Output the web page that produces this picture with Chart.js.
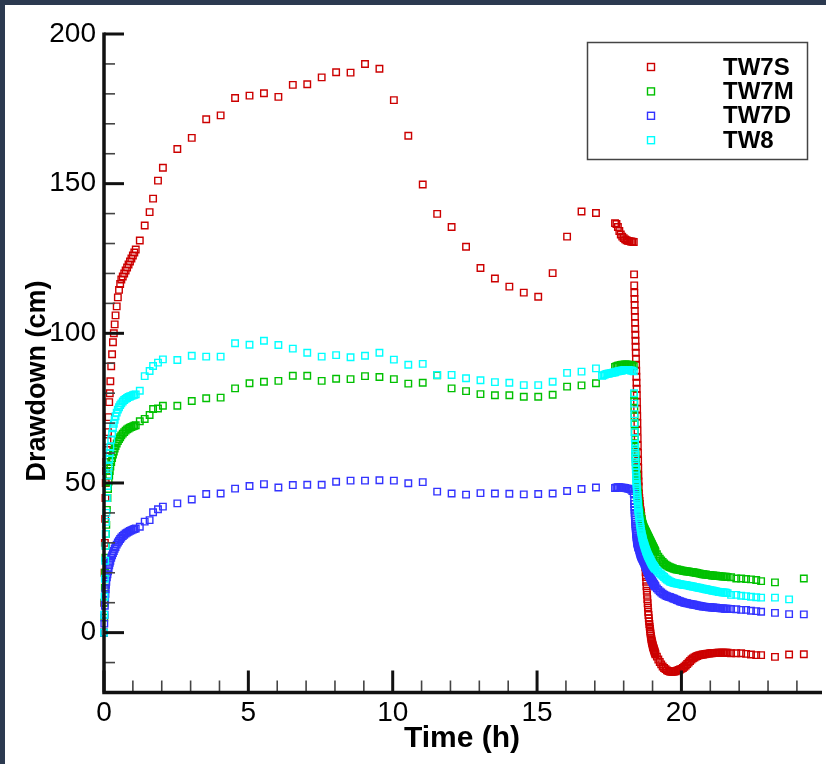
<!DOCTYPE html>
<html>
<head>
<meta charset="utf-8">
<title>Drawdown</title>
<script src="https://cdn.jsdelivr.net/npm/chart.js@4.4.0/dist/chart.umd.min.js"></script>
<style>
  html, body { margin: 0; padding: 0; background: #2c3a50; }
  #frame { position: absolute; left: 5px; top: 5px; width: 821px; height: 759px; background: #fff; }
</style>
</head>
<body>
<div id="frame"><canvas id="drawdownChart" width="821" height="759"></canvas></div>
<script>
// early pumping, dense logger readings (h)
const earlyHours = [0, 0.01, 0.02, 0.03, 0.04, 0.05, 0.06, 0.07, 0.08,
  0.1, 0.12, 0.14, 0.16, 0.18, 0.2, 0.22,
  0.25, 0.28, 0.31, 0.34, 0.37, 0.4,
  0.44, 0.48, 0.52, 0.56, 0.6,
  0.65, 0.7, 0.75, 0.8, 0.85, 0.9, 0.95, 1.0, 1.05, 1.1];
const earlyTW7S = [0, 10, 20, 30, 38, 45, 50, 54, 57,
  61, 64, 67, 72, 77, 80, 84,
  89, 93, 97, 100, 103, 106,
  109, 112, 114.5, 116.5, 118,
  119, 120, 121, 122, 123, 124, 125, 126, 127, 128];
const earlyTW7M = [0, 5, 10, 15, 20, 25, 29, 33, 36,
  41, 45, 48, 50.5, 52.5, 54, 55.5,
  57, 58.3, 59.5, 60.5, 61.5, 62.3,
  63.2, 64, 64.7, 65.3, 65.9,
  66.5, 67, 67.5, 67.9, 68.2, 68.5, 68.7, 68.9, 69.1, 69.3];
const earlyTW7D = [0, 3, 6, 9, 11, 13, 14.5, 16, 17,
  18.5, 19.5, 20.5, 21.5, 22.5, 23.3, 24,
  25, 25.8, 26.6, 27.3, 28, 28.6,
  29.4, 30.1, 30.7, 31.3, 31.8,
  32.3, 32.7, 33.1, 33.4, 33.7, 34, 34.2, 34.4, 34.6, 34.8];
const earlyTW8 = [0, 6, 12, 18, 24, 29, 33, 37, 40,
  45, 49, 52.5, 55.5, 58, 60, 62,
  64.5, 66.5, 68.3, 69.8, 71.1, 72.3,
  73.5, 74.5, 75.3, 76, 76.6,
  77.2, 77.7, 78.1, 78.4, 78.7, 78.9, 79.1, 79.3, 79.5, 79.6];

// rest of pumping, sparse readings (h)
const pumpHours = [1.24, 1.41, 1.58, 1.7, 1.87, 2.04,
  2.54, 3.04, 3.54, 4.04, 4.54, 5.04, 5.54, 6.04, 6.54, 7.04,
  7.54, 8.04, 8.54, 9.04, 9.54, 10.04, 10.54, 11.04, 11.54, 12.04,
  12.54, 13.04, 13.54, 14.04, 14.54, 15.04, 15.54, 16.04, 16.54, 17.04];
const pumpTW7S = [131, 136, 140.5, 145, 151, 155.3,
  161.6, 165.3, 171.5, 172.8, 178.6, 179.4, 180.2, 179.0, 183.0, 183.2,
  185.5, 187.2, 187.1, 190.0, 188.4, 177.9, 166.0, 149.7, 139.9, 135.5,
  128.9, 121.8, 118.3, 115.6, 113.6, 112.2, 120.1, 132.3, 140.7, 140.2];
const pumpTW7M = [70.6, 71.4, 72.7, 74.7, 74.9, 75.8,
  75.8, 77.4, 78.3, 78.5, 81.6, 83.3, 83.8, 84.1, 85.8, 85.8,
  84.1, 84.8, 84.7, 85.7, 85.4, 84.7, 83.2, 83.5, 86.0, 81.6,
  80.7, 79.7, 79.3, 79.3, 78.8, 78.8, 79.5, 82.2, 82.6, 83.3];
const pumpTW7D = [35.4, 37.1, 37.6, 40.2, 41.2, 42.1,
  43.2, 44.5, 46.3, 46.5, 48.1, 49.0, 49.6, 48.5, 49.3, 49.4,
  49.4, 50.4, 50.8, 50.8, 50.9, 50.8, 49.9, 50.3, 47.1, 46.5,
  46.1, 46.6, 46.5, 46.4, 46.2, 46.3, 46.5, 47.3, 48.0, 48.5];
const pumpTW8 = [80.8, 85.7, 87.4, 89.1, 90.2, 91.3,
  91.1, 92.5, 92.2, 92.2, 96.7, 96.2, 97.5, 96.1, 94.9, 93.5,
  92.2, 92.7, 92.0, 92.5, 93.5, 91.2, 89.5, 89.8, 86.1, 86.1,
  85.0, 84.3, 83.7, 83.5, 82.7, 82.7, 83.8, 86.8, 87.2, 88.3];

// TW8 logger started the dense run a little earlier
const leadHoursTW8 = [17.25, 17.3, 17.35, 17.4, 17.45, 17.5, 17.55, 17.6, 17.65];
const leadTW8 = [85.8, 86.0, 86.2, 86.4, 86.5, 86.6, 86.7, 86.8, 86.9];

// end of pumping + recovery (h)
const recoveryHours = [
  // pump still on
  17.7, 17.75, 17.8, 17.85, 17.9, 17.95, 18.0, 18.05, 18.1, 18.15, 18.2, 18.25, 18.3, 18.35,
  // pump off
  18.36, 18.365, 18.37, 18.375, 18.38, 18.385, 18.39, 18.395, 18.4, 18.405, 18.41,
  18.415, 18.42, 18.425, 18.43, 18.435, 18.44, 18.445, 18.45, 18.455, 18.46, 18.465,
  18.47, 18.475, 18.48, 18.485, 18.49, 18.495, 18.5, 18.505, 18.51, 18.515, 18.52,
  18.53, 18.54, 18.55, 18.56, 18.57, 18.58, 18.59, 18.6, 18.61, 18.62,
  18.63, 18.64, 18.65, 18.66, 18.67, 18.68, 18.69, 18.7, 18.71, 18.72,
  18.73, 18.74, 18.75, 18.76, 18.77, 18.78, 18.79, 18.8, 18.81, 18.82,
  18.83, 18.84, 18.85, 18.86, 18.87, 18.88, 18.89, 18.9, 18.91, 18.92,
  18.93, 18.94, 18.95, 18.96, 18.97, 18.98, 18.99, 19.0, 19.01, 19.02,
  19.03, 19.04, 19.05, 19.06, 19.07, 19.08, 19.09, 19.1,
  19.15, 19.2, 19.25, 19.3, 19.35, 19.4, 19.45, 19.5, 19.55, 19.6,
  19.65, 19.7, 19.75, 19.8, 19.85, 19.9, 19.95, 20.0, 20.05, 20.1,
  20.15, 20.2, 20.25, 20.3, 20.35, 20.4, 20.45, 20.5, 20.55, 20.6,
  20.65, 20.7, 20.75, 20.8, 20.85, 20.9, 20.95, 21.0, 21.05, 21.1,
  21.15, 21.2, 21.25, 21.3, 21.35, 21.4, 21.45, 21.5, 21.55, 21.6,
  21.72, 21.9, 22.07, 22.24, 22.41, 22.59, 22.76, 23.24, 23.73, 24.24];
const recoveryTW7S = [
  136.8, 136.5, 135.5, 134.2, 133.0, 132.3, 131.8, 131.4, 131.1, 130.9, 130.8, 130.7, 130.6, 130.5,
  119.7, 116, 113.5, 111.5, 109.5, 107.5, 105.5, 103.5, 101.5, 99.5, 97.5,
  95.5, 93.5, 91.5, 89.5, 87.5, 85.5, 83.5, 81.5, 79.3, 77, 74.7,
  72.3, 70, 67.5, 65, 62.5, 60, 57.5, 55, 52.5, 50.5, 48.8,
  46.5, 45, 44, 43, 42, 41, 40.5, 40, 39, 38,
  37, 36, 35, 33.8, 32.6, 31.4, 30.2, 29, 27.6, 26.2,
  24.8, 23.3, 21.8, 20.2, 18.6, 17, 15.5, 14, 12.6, 11.2,
  9.8, 8.4, 7, 5.9, 4.8, 3.8, 2.9, 2.0, 1.2, 0.4,
  -0.3, -1.0, -1.6, -2.2, -2.7, -3.2, -3.6, -4.0, -4.4, -4.8,
  -5.1, -5.4, -5.7, -6.0, -6.3, -6.6, -6.9, -7.2,
  -8.0, -9.0, -9.8, -10.6, -11.3, -11.8, -12.2, -12.6, -12.8, -13.0,
  -13.1, -13.1, -13.0, -12.9, -12.7, -12.5, -12.3, -12.1, -11.8, -11.4,
  -11.0, -10.5, -10.0, -9.5, -9.0, -8.6, -8.3, -8.0, -7.8, -7.6,
  -7.5, -7.4, -7.3, -7.2, -7.1, -7.0, -7.0, -6.9, -6.9, -6.8,
  -6.8, -6.8, -6.7, -6.7, -6.7, -6.7, -6.7, -6.7, -6.7, -6.7,
  -6.9, -6.9, -6.9, -7.1, -7.3, -7.5, -7.5, -8.1, -7.3, -7.2];
const recoveryTW7M = [
  88.8, 89.0, 89.2, 89.3, 89.4, 89.5, 89.5, 89.6, 89.6, 89.5, 89.5, 89.4, 89.3, 89.0,
  79.6, 77.3, 75.0, 72.3, 69.6, 67.0, 64.6, 63.3, 62.1, 60.7, 59.3,
  58.1, 57.0, 56.0, 55.0, 54.1, 53.2, 52.3, 51.5, 50.7, 50.0, 49.2,
  48.5, 47.7, 47.0, 46.4, 45.8, 45.2, 44.6, 44.0, 43.5, 43.0, 42.5,
  41.7, 41.0, 40.5, 40.0, 39.6, 39.2, 38.8, 38.5, 38.1, 37.7,
  37.3, 36.9, 36.5, 36.2, 35.9, 35.6, 35.3, 35.0, 34.8, 34.6,
  34.4, 34.2, 34.0, 33.8, 33.6, 33.4, 33.2, 33.0, 32.8, 32.6,
  32.4, 32.2, 32.0, 31.8, 31.6, 31.4, 31.2, 31.0, 30.8, 30.6,
  30.4, 30.2, 30.0, 29.8, 29.6, 29.4, 29.2, 29.0, 28.8, 28.6,
  28.4, 28.2, 28.0, 27.8, 27.6, 27.4, 27.2, 27.0,
  26.2, 25.4, 24.7, 24.1, 23.6, 23.1, 22.7, 22.4, 22.1, 21.9,
  21.7, 21.5, 21.3, 21.2, 21.1, 21.0, 20.9, 20.8, 20.7, 20.6,
  20.5, 20.4, 20.4, 20.3, 20.3, 20.2, 20.1, 20.0, 19.9, 19.8,
  19.7, 19.6, 19.5, 19.4, 19.4, 19.3, 19.3, 19.2, 19.1, 19.1,
  19.0, 19.0, 18.9, 18.9, 18.8, 18.8, 18.7, 18.7, 18.7, 18.6,
  18.5, 18.1, 18.1, 17.9, 17.8, 17.6, 17.2, 16.8, null, 18.1];
const recoveryTW7D = [
  48.3, 48.5, 48.6, 48.6, 48.5, 48.4, 48.4, 48.3, 48.2, 48.1, 48.0, 47.8, 47.3, 46.5,
  44.0, 43.0, 42.0, 41.0, 40.0, 39.2, 38.5, 37.7, 37.0, 36.3, 35.7,
  35.1, 34.5, 33.9, 33.4, 32.9, 32.4, 31.9, 31.5, 31.1, 30.8, 30.5,
  30.2, 29.9, 29.7, 29.5, 29.3, 29.1, 29.0, 28.8, 28.6, 28.4, 28.3,
  28.0, 27.6, 27.2, 26.9, 26.5, 26.2, 25.9, 25.6, 25.4, 25.2,
  25.0, 24.8, 24.6, 24.4, 24.2, 24.0, 23.8, 23.6, 23.4, 23.1,
  22.9, 22.6, 22.4, 22.1, 21.9, 21.6, 21.4, 21.1, 20.9, 20.6,
  20.4, 20.1, 19.9, 19.7, 19.5, 19.2, 19.0, 18.8, 18.6, 18.4,
  18.2, 18.0, 17.8, 17.6, 17.4, 17.3, 17.1, 16.9, 16.7, 16.6,
  16.4, 16.3, 16.1, 16.0, 15.8, 15.7, 15.5, 15.4,
  14.8, 14.3, 13.8, 13.4, 13.0, 12.7, 12.4, 12.2, 12.0, 11.9,
  11.7, 11.5, 11.3, 11.1, 10.9, 10.7, 10.5, 10.3, 10.2, 10.0,
  9.9, 9.8, 9.7, 9.6, 9.5, 9.4, 9.3, 9.2, 9.1, 9.0,
  8.9, 8.8, 8.7, 8.7, 8.6, 8.6, 8.5, 8.5, 8.4, 8.4,
  8.3, 8.3, 8.2, 8.2, 8.1, 8.1, 8.1, 8.0, 8.0, 8.0,
  7.9, 7.8, 7.6, 7.6, 7.3, 7.2, 7.0, 6.6, 6.2, 6.1];
const recoveryTW8 = [
  87.0, 87.2, 87.3, 87.4, 87.5, 87.6, 87.7, 87.8, 87.8, 87.8, 87.7, 87.6, 87.5, 87.3,
  80.0, 76.5, 73.0, 70.0, 67.0, 65.0, 63.0, 61.5, 60.0, 58.5, 57.0,
  55.7, 54.5, 53.5, 52.5, 51.5, 50.5, 49.7, 49.0, 48.2, 47.5, 46.7,
  46.0, 45.2, 44.5, 43.8, 43.2, 42.6, 42.0, 41.5, 41.0, 40.5, 40.0,
  39.2, 38.3, 37.5, 36.8, 36.1, 35.4, 34.7, 34.0, 33.5, 33.0,
  32.5, 32.0, 31.6, 31.2, 30.8, 30.4, 30.0, 29.7, 29.4, 29.1,
  28.8, 28.5, 28.2, 27.9, 27.6, 27.3, 27.0, 26.8, 26.5, 26.3,
  26.0, 25.8, 25.6, 25.4, 25.2, 25.0, 24.8, 24.6, 24.4, 24.2,
  24.0, 23.8, 23.6, 23.4, 23.2, 23.0, 22.9, 22.7, 22.6, 22.4,
  22.3, 22.1, 22.0, 21.9, 21.7, 21.6, 21.5, 21.3,
  20.8, 20.3, 19.8, 19.4, 19.0, 18.6, 18.1, 17.7, 17.4, 17.1,
  16.9, 16.7, 16.6, 16.5, 16.4, 16.3, 16.2, 16.1, 16.0, 15.9,
  15.9, 15.8, 15.7, 15.6, 15.5, 15.4, 15.3, 15.2, 15.1, 15.0,
  14.9, 14.8, 14.7, 14.6, 14.5, 14.4, 14.3, 14.2, 14.1, 14.0,
  13.9, 13.8, 13.7, 13.6, 13.6, 13.5, 13.4, 13.4, 13.3, 13.2,
  12.6, 12.6, 12.3, 12.2, 12.0, 11.8, 11.7, 11.7, 11.1, null];

const wellNames = ['TW7S', 'TW7M', 'TW7D', 'TW8'];
const wellColors = ['#cc0000', '#00c000', '#3333ff', '#00ffff'];

function toPoints(hours, values) {
  const pts = [];
  hours.forEach((h, i) => {
    if (values[i] !== null && values[i] !== undefined) pts.push({ x: h, y: values[i] });
  });
  return pts;
}

const seriesPoints = [
  toPoints(earlyHours, earlyTW7S).concat(toPoints(pumpHours, pumpTW7S), toPoints(recoveryHours, recoveryTW7S)),
  toPoints(earlyHours, earlyTW7M).concat(toPoints(pumpHours, pumpTW7M), toPoints(recoveryHours, recoveryTW7M)),
  toPoints(earlyHours, earlyTW7D).concat(toPoints(pumpHours, pumpTW7D), toPoints(recoveryHours, recoveryTW7D)),
  toPoints(earlyHours, earlyTW8).concat(toPoints(pumpHours, pumpTW8), toPoints(leadHoursTW8, leadTW8), toPoints(recoveryHours, recoveryTW8))
];

const tickFont = { family: '"Liberation Sans Narrow", "Liberation Sans", Arial, sans-serif', size: 28 };

// tecplot-like axes: ticks point inward, drawn over the symbols
const axesPlugin = {
  id: 'inwardAxes',
  afterDatasetsDraw(chart) {
    const { ctx, chartArea: a, scales: { x, y } } = chart;
    ctx.save();
    x.ticks.forEach(t => {
      const px = x.getPixelForValue(t.value);
      const major = t.value % 5 === 0;
      ctx.strokeStyle = major ? '#111' : '#444';
      ctx.lineWidth = major ? 3 : 1.6;
      ctx.beginPath();
      ctx.moveTo(px, a.bottom);
      ctx.lineTo(px, a.bottom - (major ? 22 : 12));
      ctx.stroke();
    });
    y.ticks.forEach(t => {
      const py = y.getPixelForValue(t.value);
      const major = t.value % 50 === 0;
      ctx.strokeStyle = major ? '#111' : '#444';
      ctx.lineWidth = major ? 3 : 1.6;
      ctx.beginPath();
      ctx.moveTo(a.left, py);
      ctx.lineTo(a.left + (major ? 20 : 11), py);
      ctx.stroke();
    });
    ctx.strokeStyle = '#111';
    ctx.lineWidth = 3.5;
    ctx.beginPath();
    ctx.moveTo(a.left, a.top - 1.5);
    ctx.lineTo(a.left, a.bottom);
    ctx.lineTo(a.right + 2, a.bottom);
    ctx.stroke();

    // axis titles
    ctx.fillStyle = '#000';
    ctx.textAlign = 'center';
    ctx.textBaseline = 'middle';
    ctx.font = 'bold 30px "Liberation Sans", Arial, sans-serif';
    ctx.fillText('Time (h)', (a.left + a.right) / 2, 734);
    ctx.translate(33, 376);
    ctx.rotate(-Math.PI / 2);
    ctx.font = 'bold 27px "Liberation Sans", Arial, sans-serif';
    ctx.fillText('Drawdown (cm)', 0, 0);
    ctx.restore();
  }
};

const boxLegend = {
  id: 'boxLegend',
  afterDraw(chart) {
    const ctx = chart.ctx;
    ctx.save();
    ctx.strokeStyle = '#444';
    ctx.lineWidth = 1.5;
    ctx.strokeRect(582.5, 37.5, 220, 117);
    ctx.font = 'bold 24px "Liberation Sans", Arial, sans-serif';
    ctx.textBaseline = 'middle';
    ctx.textAlign = 'left';
    wellNames.forEach((name, i) => {
      const yy = 62 + i * 24.4;
      ctx.strokeStyle = wellColors[i];
      ctx.lineWidth = 1.4;
      ctx.strokeRect(642.5, yy - 3.5, 7, 7);
      ctx.fillStyle = '#000';
      ctx.fillText(name, 718, yy + 1);
    });
    ctx.restore();
  }
};

const ctx = document.getElementById('drawdownChart').getContext('2d');
new Chart(ctx, {
  type: 'scatter',
  data: {
    datasets: wellNames.map((name, i) => ({
      label: name,
      data: seriesPoints[i],
      borderColor: wellColors[i],
      backgroundColor: 'rgba(0,0,0,0)',
      pointStyle: 'rect',
      pointRadius: 4.6,
      pointBorderWidth: 1.4,
      showLine: false,
      clip: false,
      order: wellNames.length - i
    }))
  },
  options: {
    responsive: false,
    animation: false,
    devicePixelRatio: 1,
    events: [],
    layout: { padding: { left: 0, top: 29, right: 2, bottom: 0 } },
    plugins: { legend: { display: false }, tooltip: { enabled: false } },
    scales: {
      x: {
        type: 'linear',
        min: 0,
        max: 24.8,
        grid: { display: false, drawTicks: false },
        border: { display: false },
        ticks: {
          stepSize: 1,
          includeBounds: false,
          autoSkip: false,
          maxRotation: 0,
          padding: 4,
          color: '#000',
          font: tickFont,
          callback: v => (v % 5 === 0 ? v : '')
        },
        afterFit(scale) { scale.height = 71.5; }
      },
      y: {
        type: 'linear',
        min: -20,
        max: 200,
        grid: { display: false, drawTicks: false },
        border: { display: false },
        ticks: {
          stepSize: 10,
          autoSkip: false,
          padding: 8,
          color: '#000',
          font: tickFont,
          callback: v => (v % 50 === 0 ? v : '')
        },
        afterFit(scale) { scale.width = 99; }
      }
    }
  },
  plugins: [axesPlugin, boxLegend]
});
</script>
</body>
</html>
